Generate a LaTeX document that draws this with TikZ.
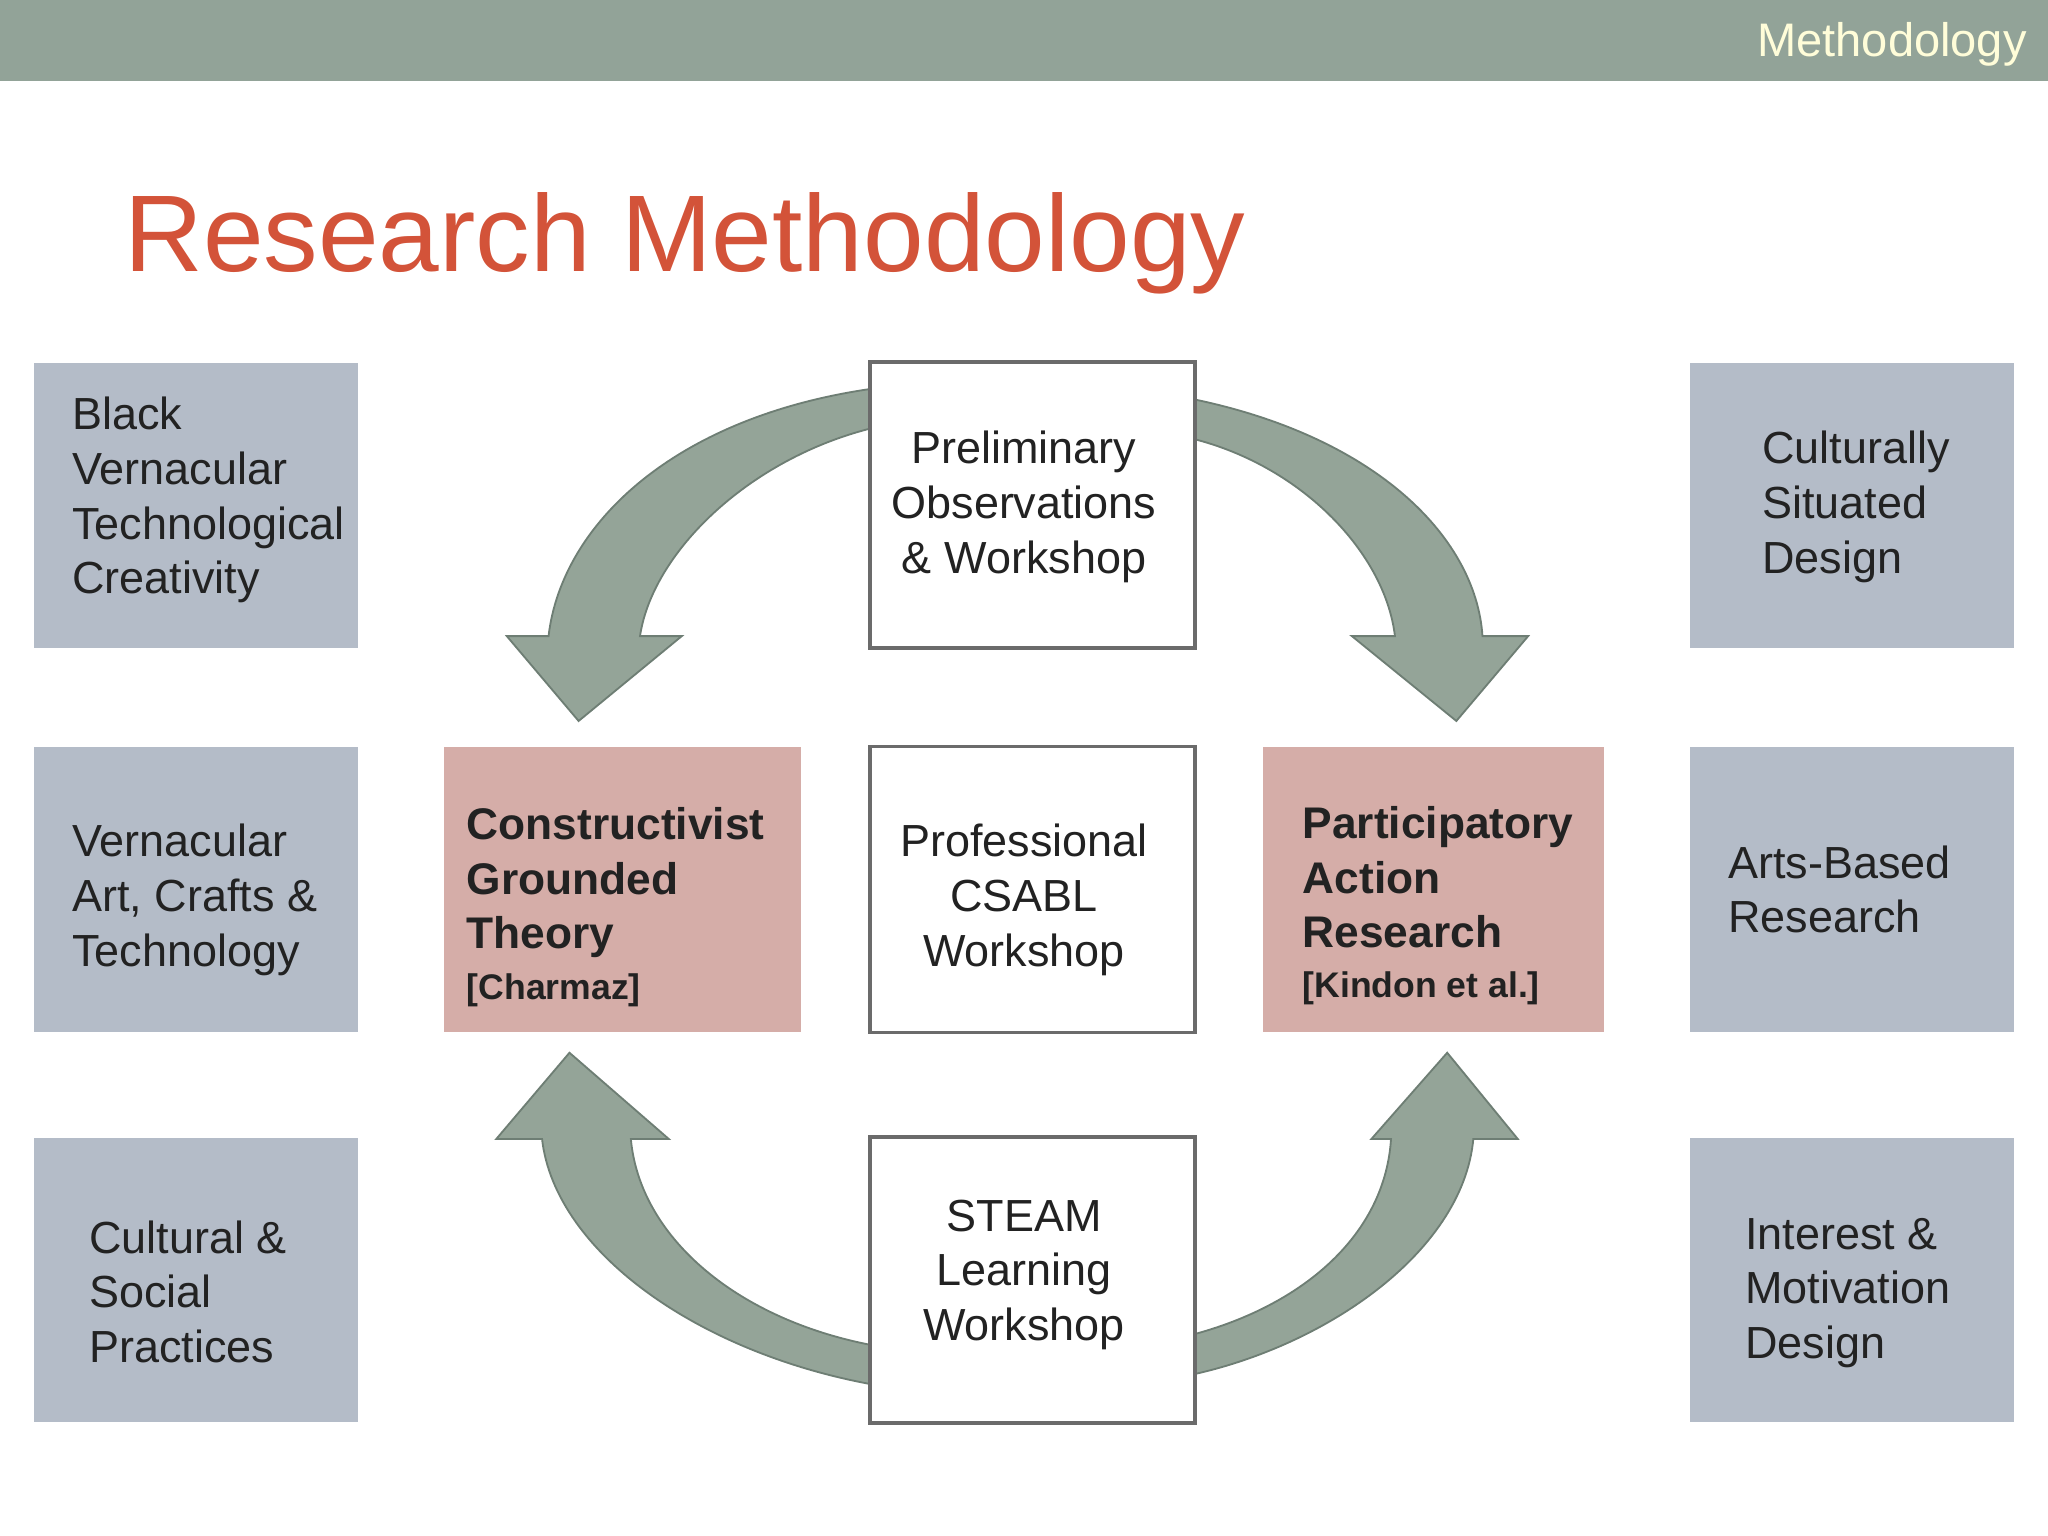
\documentclass[tikz,border=0pt]{standalone}
\usepackage{fontspec}
\setmainfont{Liberation Sans}
\definecolor{band}{HTML}{92A398}
\definecolor{titlered}{HTML}{D35339}
\definecolor{side}{HTML}{B4BCC8}
\definecolor{pink}{HTML}{D5ADA8}
\definecolor{arrowc}{HTML}{94A498}
\definecolor{arrowd}{HTML}{6E7E74}
\definecolor{boxline}{HTML}{6B6B6B}
\definecolor{txt}{HTML}{222222}
\tikzset{
  sidebox/.style={fill=side,draw=none,minimum width=248*0.02cm,minimum height=218*0.02cm,inner sep=0},
  pinkbox/.style={fill=pink,draw=none,minimum height=218*0.02cm,inner sep=0},
  whitebox/.style={fill=white,draw=boxline,line width=1.6pt,minimum width=249*0.02cm,minimum height=219*0.02cm,inner sep=0},
  lbl/.style={align=left,anchor=west,inner sep=0,text=txt,font=\fontsize{19.6}{23.8}\selectfont},
  clbl/.style={align=center,inner sep=0,text=txt,font=\fontsize{19.6}{23.8}\selectfont},
  blbl/.style={align=left,anchor=north west,inner sep=0,text=txt,font=\bfseries\fontsize{19.3}{23.8}\selectfont},
  arr/.style={fill=arrowc,draw=arrowd,line width=0.8pt,line join=miter},
}
\begin{document}
\begin{tikzpicture}[x=0.02cm,y=-0.02cm]
\useasboundingbox (0,0) rectangle (1568,1176);
\fill[band] (0,0) rectangle (1568,62);
\node[anchor=east,inner sep=0,text=white!85!yellow,font=\fontsize{20.5}{24}\selectfont] (hdr) at (1552,34) {Methodology};
\node[anchor=base west,inner sep=0,text=titlered,font=\fontsize{47.5}{52}\selectfont] (title) at (95,208) {Research Methodology};

% arrows
\draw[arr] (680,296) .. controls (520,315) and (430,400) .. (420,487) -- (388,487) -- (443,552) -- (522,487) -- (490,487)
  .. controls (500,420) and (580,345) .. (680,325) -- cycle;
\draw[arr] (900,303) .. controls (1050,330) and (1130,410) .. (1135,487) -- (1170,487) -- (1115,552) -- (1035,487) -- (1068,487)
  .. controls (1060,420) and (990,350) .. (900,333) -- cycle;
\draw[arr] (415,872) .. controls (425,960) and (540,1040) .. (680,1062) -- (680,1032)
  .. controls (570,1015) and (490,950) .. (483,872) -- (512,872) -- (436,806) -- (380,872) -- cycle;
\draw[arr] (1128,872) .. controls (1120,960) and (1010,1035) .. (900,1055) -- (900,1025)
  .. controls (990,1005) and (1060,950) .. (1065,872) -- (1050,872) -- (1108,806) -- (1162,872) -- cycle;

% side boxes
\node[sidebox] (L1) at (150,387) {};
\node[sidebox] (L2) at (150,681) {};
\node[sidebox] (L3) at (150,980) {};
\node[sidebox] (R1) at (1418,387) {};
\node[sidebox] (R2) at (1418,681) {};
\node[sidebox] (R3) at (1418,980) {};
\node[lbl] at (55,383) {Black\\Vernacular\\Technological\\Creativity};
\node[lbl] at (55,689) {Vernacular\\Art, Crafts \&\\Technology};
\node[lbl] at (68,989) {Cultural \&\\Social\\Practices};
\node[lbl] at (1349,388) {Culturally\\Situated\\Design};
\node[lbl] at (1323,681) {Arts-Based\\Research};
\node[lbl] at (1336,990) {Interest \&\\Motivation\\Design};

% pink boxes
\node[pinkbox,minimum width=273*0.02cm] (P1) at (476.5,681) {};
\node[pinkbox,minimum width=261*0.02cm] (P2) at (1097.5,681) {};
\node[blbl] at (357,618) {Constructivist\\Grounded\\Theory\\[-2pt]{\fontsize{15.5}{18}\selectfont [Charmaz]}};
\node[blbl] at (997,617) {Participatory\\Action\\Research\\[-2pt]{\fontsize{15.5}{18}\selectfont [Kindon et al.]}};

% white boxes
\node[whitebox] (W1) at (790.5,386.5) {};
\node[whitebox] (W2) at (790.5,681) {};
\node[whitebox] (W3) at (790.5,980) {};
\node[clbl] at (784,388) {Preliminary\\Observations\\\& Workshop};
\node[clbl] at (784,689) {Professional\\CSABL\\Workshop};
\node[clbl] at (784,976) {STEAM\\Learning\\Workshop};
\end{tikzpicture}
\end{document}
